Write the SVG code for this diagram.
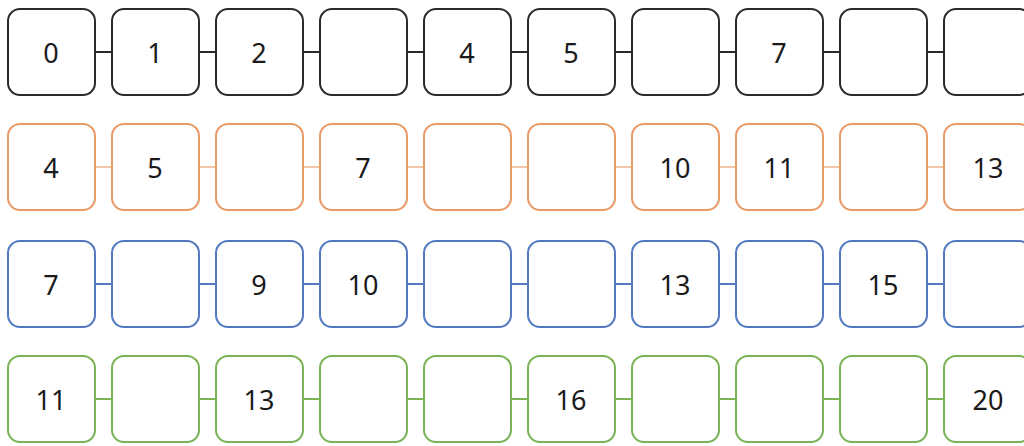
<svg xmlns="http://www.w3.org/2000/svg" width="1024" height="446" viewBox="0 0 1024 446">
<style>
rect{fill:#fff;stroke-width:2}
line{stroke-width:2}
text{font-family:"Noto Sans","DejaVu Sans",sans-serif;font-size:27px;fill:#1a1a1a;text-anchor:middle;dominant-baseline:central}
.k rect,.k line{stroke:#2a2a2a}
.o rect{stroke:#e99a66}.o line{stroke:#efb58d;stroke-width:1.5}
.b rect,.b line{stroke:#5279c2}
.g rect,.g line{stroke:#79b356}
</style>
<rect x="0" y="0" width="1024" height="446" style="fill:#fff;stroke:none"/>
<g id="connectors">
<g class="k"><line x1="95" y1="52" x2="112" y2="52"/><line x1="199" y1="52" x2="216" y2="52"/><line x1="303" y1="52" x2="320" y2="52"/><line x1="407" y1="52" x2="424" y2="52"/><line x1="511" y1="52" x2="528" y2="52"/><line x1="615" y1="52" x2="632" y2="52"/><line x1="719" y1="52" x2="736" y2="52"/><line x1="823" y1="52" x2="840" y2="52"/><line x1="927" y1="52" x2="944" y2="52"/></g>
<g class="o"><line x1="95" y1="167" x2="112" y2="167"/><line x1="199" y1="167" x2="216" y2="167"/><line x1="303" y1="167" x2="320" y2="167"/><line x1="407" y1="167" x2="424" y2="167"/><line x1="511" y1="167" x2="528" y2="167"/><line x1="615" y1="167" x2="632" y2="167"/><line x1="719" y1="167" x2="736" y2="167"/><line x1="823" y1="167" x2="840" y2="167"/><line x1="927" y1="167" x2="944" y2="167"/></g>
<g class="b"><line x1="95" y1="284" x2="112" y2="284"/><line x1="199" y1="284" x2="216" y2="284"/><line x1="303" y1="284" x2="320" y2="284"/><line x1="407" y1="284" x2="424" y2="284"/><line x1="511" y1="284" x2="528" y2="284"/><line x1="615" y1="284" x2="632" y2="284"/><line x1="719" y1="284" x2="736" y2="284"/><line x1="823" y1="284" x2="840" y2="284"/><line x1="927" y1="284" x2="944" y2="284"/></g>
<g class="g"><line x1="95" y1="399" x2="112" y2="399"/><line x1="199" y1="399" x2="216" y2="399"/><line x1="303" y1="399" x2="320" y2="399"/><line x1="407" y1="399" x2="424" y2="399"/><line x1="511" y1="399" x2="528" y2="399"/><line x1="615" y1="399" x2="632" y2="399"/><line x1="719" y1="399" x2="736" y2="399"/><line x1="823" y1="399" x2="840" y2="399"/><line x1="927" y1="399" x2="944" y2="399"/></g>
</g>
<g class="k">
<g id="r1n1"><rect x="8" y="9" width="87" height="86" rx="12"/><text x="51" y="52">0</text></g>
<g id="r1n2"><rect x="112" y="9" width="87" height="86" rx="12"/><text x="155" y="52">1</text></g>
<g id="r1n3"><rect x="216" y="9" width="87" height="86" rx="12"/><text x="259" y="52">2</text></g>
<g id="r1n4"><rect x="320" y="9" width="87" height="86" rx="12"/></g>
<g id="r1n5"><rect x="424" y="9" width="87" height="86" rx="12"/><text x="467" y="52">4</text></g>
<g id="r1n6"><rect x="528" y="9" width="87" height="86" rx="12"/><text x="571" y="52">5</text></g>
<g id="r1n7"><rect x="632" y="9" width="87" height="86" rx="12"/></g>
<g id="r1n8"><rect x="736" y="9" width="87" height="86" rx="12"/><text x="779" y="52">7</text></g>
<g id="r1n9"><rect x="840" y="9" width="87" height="86" rx="12"/></g>
<g id="r1n10"><rect x="944" y="9" width="87" height="86" rx="12"/></g>
</g>
<g class="o">
<g id="r2n1"><rect x="8" y="124" width="87" height="86" rx="12"/><text x="51" y="167">4</text></g>
<g id="r2n2"><rect x="112" y="124" width="87" height="86" rx="12"/><text x="155" y="167">5</text></g>
<g id="r2n3"><rect x="216" y="124" width="87" height="86" rx="12"/></g>
<g id="r2n4"><rect x="320" y="124" width="87" height="86" rx="12"/><text x="363" y="167">7</text></g>
<g id="r2n5"><rect x="424" y="124" width="87" height="86" rx="12"/></g>
<g id="r2n6"><rect x="528" y="124" width="87" height="86" rx="12"/></g>
<g id="r2n7"><rect x="632" y="124" width="87" height="86" rx="12"/><text x="675" y="167">10</text></g>
<g id="r2n8"><rect x="736" y="124" width="87" height="86" rx="12"/><text x="779" y="167">11</text></g>
<g id="r2n9"><rect x="840" y="124" width="87" height="86" rx="12"/></g>
<g id="r2n10"><rect x="944" y="124" width="87" height="86" rx="12"/><text x="988" y="167">13</text></g>
</g>
<g class="b">
<g id="r3n1"><rect x="8" y="241" width="87" height="86" rx="12"/><text x="51" y="284">7</text></g>
<g id="r3n2"><rect x="112" y="241" width="87" height="86" rx="12"/></g>
<g id="r3n3"><rect x="216" y="241" width="87" height="86" rx="12"/><text x="259" y="284">9</text></g>
<g id="r3n4"><rect x="320" y="241" width="87" height="86" rx="12"/><text x="363" y="284">10</text></g>
<g id="r3n5"><rect x="424" y="241" width="87" height="86" rx="12"/></g>
<g id="r3n6"><rect x="528" y="241" width="87" height="86" rx="12"/></g>
<g id="r3n7"><rect x="632" y="241" width="87" height="86" rx="12"/><text x="675" y="284">13</text></g>
<g id="r3n8"><rect x="736" y="241" width="87" height="86" rx="12"/></g>
<g id="r3n9"><rect x="840" y="241" width="87" height="86" rx="12"/><text x="883" y="284">15</text></g>
<g id="r3n10"><rect x="944" y="241" width="87" height="86" rx="12"/></g>
</g>
<g class="g">
<g id="r4n1"><rect x="8" y="356" width="87" height="86" rx="12"/><text x="51" y="399">11</text></g>
<g id="r4n2"><rect x="112" y="356" width="87" height="86" rx="12"/></g>
<g id="r4n3"><rect x="216" y="356" width="87" height="86" rx="12"/><text x="259" y="399">13</text></g>
<g id="r4n4"><rect x="320" y="356" width="87" height="86" rx="12"/></g>
<g id="r4n5"><rect x="424" y="356" width="87" height="86" rx="12"/></g>
<g id="r4n6"><rect x="528" y="356" width="87" height="86" rx="12"/><text x="571" y="399">16</text></g>
<g id="r4n7"><rect x="632" y="356" width="87" height="86" rx="12"/></g>
<g id="r4n8"><rect x="736" y="356" width="87" height="86" rx="12"/></g>
<g id="r4n9"><rect x="840" y="356" width="87" height="86" rx="12"/></g>
<g id="r4n10"><rect x="944" y="356" width="87" height="86" rx="12"/><text x="988" y="399">20</text></g>
</g>
</svg>
